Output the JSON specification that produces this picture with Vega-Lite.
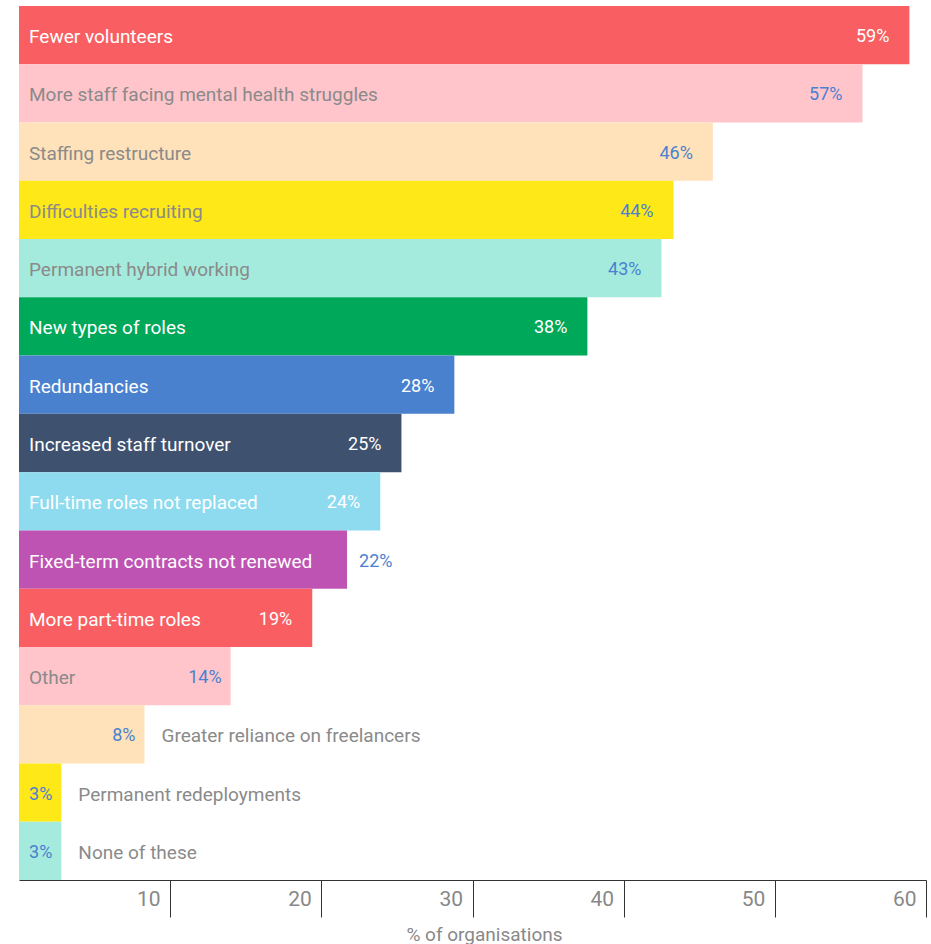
{
  "$schema": "https://vega.github.io/schema/vega-lite/v6.json",
  "width": 907,
  "height": 874,
  "autosize": "none",
  "padding": {"left": 19, "top": 6, "right": 5, "bottom": 64},
  "background": "white",
  "config": {"view": {"stroke": null}, "font": "Roboto"},
  "data": {
    "values": [
      {"category": "Fewer volunteers", "value": 58.9, "label": "59%"},
      {"category": "More staff facing mental health struggles", "value": 55.8, "label": "57%"},
      {"category": "Staffing restructure", "value": 45.9, "label": "46%"},
      {"category": "Difficulties recruiting", "value": 43.3, "label": "44%"},
      {"category": "Permanent hybrid working", "value": 42.5, "label": "43%"},
      {"category": "New types of roles", "value": 37.6, "label": "38%"},
      {"category": "Redundancies", "value": 28.8, "label": "28%"},
      {"category": "Increased staff turnover", "value": 25.3, "label": "25%"},
      {"category": "Full-time roles not replaced", "value": 23.9, "label": "24%"},
      {"category": "Fixed-term contracts not renewed", "value": 21.7, "label": "22%"},
      {"category": "More part-time roles", "value": 19.4, "label": "19%"},
      {"category": "Other", "value": 14.0, "label": "14%"},
      {"category": "Greater reliance on freelancers", "value": 8.3, "label": "8%"},
      {"category": "Permanent redeployments", "value": 2.8, "label": "3%"},
      {"category": "None of these", "value": 2.8, "label": "3%"}
    ]
  },
  "encoding": {
    "y": {
      "field": "category",
      "type": "nominal",
      "sort": null,
      "axis": null,
      "scale": {"paddingInner": 0, "paddingOuter": 0}
    }
  },
  "layer": [
    {
      "mark": {"type": "bar"},
      "encoding": {
        "x": {
          "field": "value",
          "type": "quantitative",
          "scale": {"domain": [0, 60], "nice": false},
          "axis": {
            "values": [10, 20, 30, 40, 50, 60],
            "grid": false,
            "domainColor": "#333333",
            "tickColor": "#333333",
            "tickSize": 37,
            "labelAlign": "right",
            "labelBaseline": "middle",
            "labelPadding": -18,
            "labelOffset": -10,
            "labelFontSize": 21,
            "labelColor": "#888888",
            "title": "% of organisations",
            "titleFontSize": 19,
            "titleColor": "#888888",
            "titleFontWeight": "normal",
            "titleX": 465,
            "titleY": 54,
            "titleBaseline": "middle"
          }
        },
        "color": {
          "field": "category",
          "type": "nominal",
          "legend": null,
          "scale": {
            "domain": ["Fewer volunteers", "More staff facing mental health struggles", "Staffing restructure", "Difficulties recruiting", "Permanent hybrid working", "New types of roles", "Redundancies", "Increased staff turnover", "Full-time roles not replaced", "Fixed-term contracts not renewed", "More part-time roles", "Other", "Greater reliance on freelancers", "Permanent redeployments", "None of these"],
            "range": ["#F95F62", "#FFC5CB", "#FFE1BA", "#FFE817", "#A5EBDD", "#00A85A", "#4A81CF", "#3E516F", "#8EDBF0", "#BE53B4", "#F95F62", "#FFC5CB", "#FFE1BA", "#FFE817", "#A5EBDD"]
          }
        }
      }
    },
    {
      "transform": [{"filter": "datum.value >= 10"}],
      "mark": {"type": "text", "align": "left", "baseline": "middle", "dx": 10, "dy": 2, "fontSize": 19},
      "encoding": {
        "x": {"datum": 0, "type": "quantitative"},
        "text": {"field": "category"},
        "color": {
          "condition": {
            "test": "indexof(['Fewer volunteers','New types of roles','Redundancies','Increased staff turnover','Full-time roles not replaced','Fixed-term contracts not renewed','More part-time roles'], datum.category) >= 0",
            "value": "white"
          },
          "value": "#8A8A8A"
        }
      }
    },
    {
      "transform": [{"filter": "datum.value < 10"}],
      "mark": {"type": "text", "align": "left", "baseline": "middle", "dx": 17, "dy": 2, "fontSize": 19, "color": "#8A8A8A"},
      "encoding": {
        "x": {"field": "value", "type": "quantitative"},
        "text": {"field": "category"}
      }
    },
    {
      "transform": [{"filter": "datum.category != 'Fixed-term contracts not renewed' && datum.value >= 15"}],
      "mark": {"type": "text", "align": "right", "baseline": "middle", "dx": -20, "dy": 2, "fontSize": 18},
      "encoding": {
        "x": {"field": "value", "type": "quantitative"},
        "text": {"field": "label"},
        "color": {
          "condition": {
            "test": "indexof(['59%','38%','28%','25%','24%','19%'], datum.label) >= 0",
            "value": "white"
          },
          "value": "#4A81CF"
        }
      }
    },
    {
      "transform": [{"filter": "datum.value < 15"}],
      "mark": {"type": "text", "align": "right", "baseline": "middle", "dx": -9, "dy": 2, "fontSize": 18, "color": "#4A81CF"},
      "encoding": {
        "x": {"field": "value", "type": "quantitative"},
        "text": {"field": "label"}
      }
    },
    {
      "transform": [{"filter": "datum.category == 'Fixed-term contracts not renewed'"}],
      "mark": {"type": "text", "align": "left", "baseline": "middle", "dx": 12, "dy": 2, "fontSize": 18, "color": "#4A81CF"},
      "encoding": {
        "x": {"field": "value", "type": "quantitative"},
        "text": {"field": "label"}
      }
    }
  ]
}
